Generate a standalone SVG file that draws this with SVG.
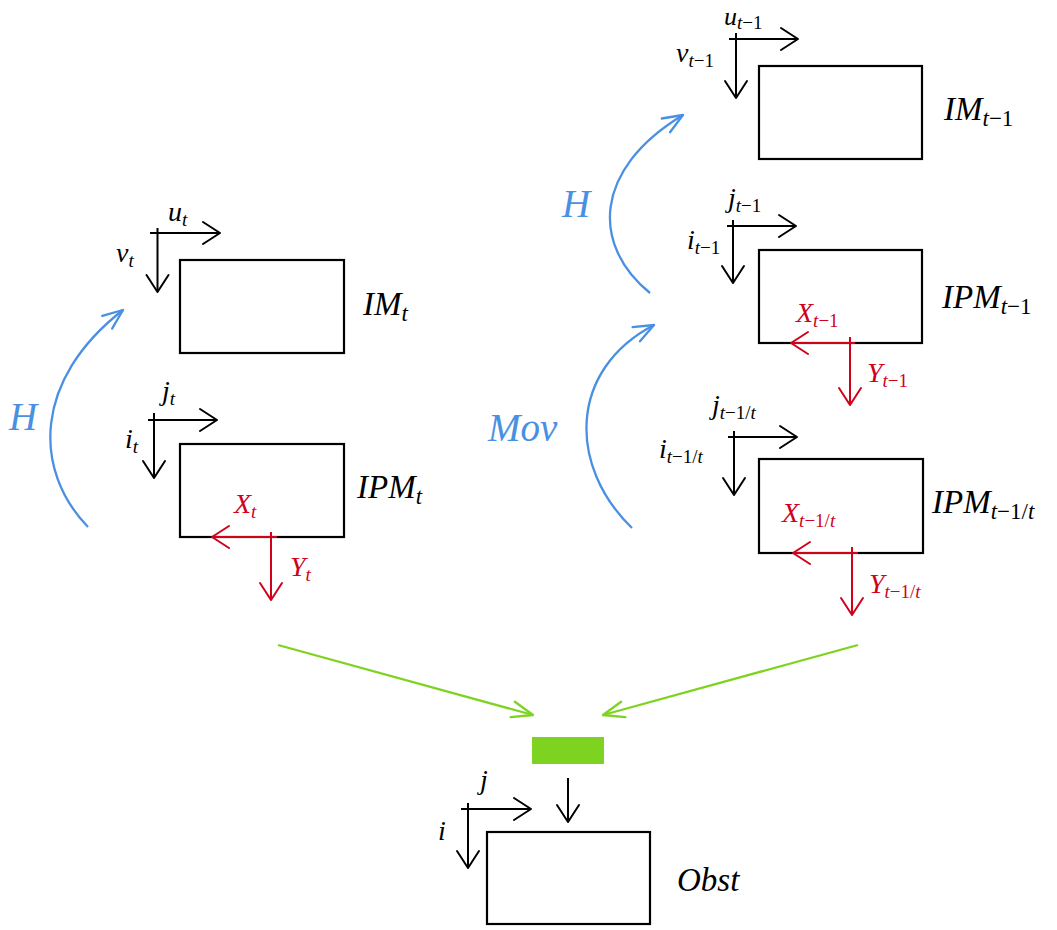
<svg xmlns="http://www.w3.org/2000/svg" width="1057" height="930" viewBox="0 0 1057 930">
<defs>
<style>
.box{fill:none;stroke:#000;stroke-width:2.2}
.ax{fill:none;stroke:#000;stroke-width:2}
.rax{fill:none;stroke:#d0021b;stroke-width:2}
.blue{fill:none;stroke:#4a90e2;stroke-width:2.3}
.green{fill:none;stroke:#7ed321;stroke-width:2.3}
text{font-family:"Liberation Serif","Times New Roman",serif;font-style:italic}
.sm{font-size:28px;fill:#000}
.red{fill:#d0021b}
.big{font-size:33px;fill:#000}
.bl{font-size:39px;fill:#4a90e2}
.sub{font-size:19px}
.bsub{font-size:23px}
.up{font-style:normal}
</style>
<marker id="ak" markerUnits="userSpaceOnUse" markerWidth="40" markerHeight="40" viewBox="-30 -20 40 40" refX="0" refY="0" orient="auto" overflow="visible">
<path d="M -17 -11 L 0 0 L -17 11" fill="none" stroke="#000" stroke-width="2" stroke-linecap="round" stroke-linejoin="round"/>
</marker>
<marker id="ar" markerUnits="userSpaceOnUse" markerWidth="40" markerHeight="40" viewBox="-30 -20 40 40" refX="0" refY="0" orient="auto" overflow="visible">
<path d="M -17 -11 L 0 0 L -17 11" fill="none" stroke="#d0021b" stroke-width="2" stroke-linecap="round" stroke-linejoin="round"/>
</marker>
<marker id="ab" markerUnits="userSpaceOnUse" markerWidth="40" markerHeight="40" viewBox="-30 -20 40 40" refX="0" refY="0" orient="auto" overflow="visible">
<path d="M -20 -8 L 0 0 L -20 8" fill="none" stroke="#4a90e2" stroke-width="2.3" stroke-linecap="round" stroke-linejoin="round"/>
</marker>
<marker id="ag" markerUnits="userSpaceOnUse" markerWidth="40" markerHeight="40" viewBox="-30 -20 40 40" refX="0" refY="0" orient="auto" overflow="visible">
<path d="M -21 -8 L 0 0 L -21 8" fill="none" stroke="#7ed321" stroke-width="2.3" stroke-linecap="round" stroke-linejoin="round"/>
</marker>
</defs>
<rect width="1057" height="930" fill="#fff"/>

<g id="IM_t">
<rect class="box" x="180" y="260" width="164" height="93"/>
<line class="ax" x1="157.5" y1="228" x2="157.5" y2="292" marker-end="url(#ak)"/>
<line class="ax" x1="150" y1="233" x2="220" y2="233" marker-end="url(#ak)"/>
<text class="sm" x="168" y="221">u<tspan class="sub" dy="5">t</tspan></text>
<text class="sm" x="116" y="262">v<tspan class="sub" dy="5">t</tspan></text>
<text class="big" x="363" y="315">IM<tspan class="bsub" dy="6">t</tspan></text>
</g>

<g id="IPM_t">
<rect class="box" x="180" y="444" width="164" height="93"/>
<line class="ax" x1="154" y1="413" x2="154" y2="478" marker-end="url(#ak)"/>
<line class="ax" x1="148" y1="420" x2="217" y2="420" marker-end="url(#ak)"/>
<text class="sm" x="162" y="400">j<tspan class="sub" dy="5">t</tspan></text>
<text class="sm" x="125" y="448">i<tspan class="sub" dy="5">t</tspan></text>
<text class="big" x="357" y="498">IPM<tspan class="bsub" dy="6">t</tspan></text>
<line class="rax" x1="277" y1="537" x2="212" y2="537" marker-end="url(#ar)"/>
<line class="rax" x1="271" y1="532" x2="271" y2="600" marker-end="url(#ar)"/>
<text class="sm red" x="234" y="513">X<tspan class="sub" dy="5">t</tspan></text>
<text class="sm red" x="290" y="576">Y<tspan class="sub" dy="5">t</tspan></text>
</g>

<g id="IM_t-1">
<rect class="box" x="759" y="66" width="163" height="93"/>
<line class="ax" x1="736" y1="33" x2="736" y2="98" marker-end="url(#ak)"/>
<line class="ax" x1="729" y1="39" x2="798" y2="39" marker-end="url(#ak)"/>
<text class="sm" x="724" y="25" style="font-size:26px">u<tspan class="sub" dy="4">t<tspan class="up">−1</tspan></tspan></text>
<text class="sm" x="676" y="62">v<tspan class="sub" dy="5">t<tspan class="up">−1</tspan></tspan></text>
<text class="big" x="944" y="120">IM<tspan class="bsub" dy="6">t<tspan class="up">−1</tspan></tspan></text>
</g>

<g id="IPM_t-1">
<rect class="box" x="759" y="250" width="163" height="93"/>
<line class="ax" x1="733" y1="220" x2="733" y2="283" marker-end="url(#ak)"/>
<line class="ax" x1="727" y1="226" x2="796" y2="226" marker-end="url(#ak)"/>
<text class="sm" x="728" y="207">j<tspan class="sub" dy="5">t<tspan class="up">−1</tspan></tspan></text>
<text class="sm" x="687" y="249">i<tspan class="sub" dy="5">t<tspan class="up">−1</tspan></tspan></text>
<text class="big" x="942" y="308">IPM<tspan class="bsub" dy="6">t<tspan class="up">−1</tspan></tspan></text>
<line class="rax" x1="855" y1="343" x2="791" y2="343" marker-end="url(#ar)"/>
<line class="rax" x1="850" y1="337" x2="850" y2="405" marker-end="url(#ar)"/>
<text class="sm red" x="796" y="322">X<tspan class="sub" dy="5">t<tspan class="up">−1</tspan></tspan></text>
<text class="sm red" x="867" y="382">Y<tspan class="sub" dy="5">t<tspan class="up">−1</tspan></tspan></text>
</g>

<g id="IPM_t-1_t">
<rect class="box" x="759" y="459" width="164" height="94"/>
<line class="ax" x1="734" y1="431" x2="734" y2="495" marker-end="url(#ak)"/>
<line class="ax" x1="728" y1="437" x2="797" y2="437" marker-end="url(#ak)"/>
<text class="sm" x="712" y="414">j<tspan class="sub" dy="5">t<tspan class="up">−1/</tspan>t</tspan></text>
<text class="sm" x="659" y="458">i<tspan class="sub" dy="5">t<tspan class="up">−1/</tspan>t</tspan></text>
<text class="big" x="932" y="513">IPM<tspan class="bsub" dy="6">t<tspan class="up">−1/</tspan>t</tspan></text>
<line class="rax" x1="858" y1="553" x2="793" y2="553" marker-end="url(#ar)"/>
<line class="rax" x1="852" y1="547" x2="852" y2="615" marker-end="url(#ar)"/>
<text class="sm red" x="782" y="522">X<tspan class="sub" dy="5">t<tspan class="up">−1/</tspan>t</tspan></text>
<text class="sm red" x="869" y="593">Y<tspan class="sub" dy="5">t<tspan class="up">−1/</tspan>t</tspan></text>
</g>

<g id="fusion">
<rect x="532" y="737" width="72" height="27" fill="#7ed321"/>
</g>

<g id="Obst">
<rect class="box" x="487" y="832" width="163" height="92"/>
<line class="ax" x1="468" y1="803" x2="468" y2="868" marker-end="url(#ak)"/>
<line class="ax" x1="461" y1="809" x2="531" y2="809" marker-end="url(#ak)"/>
<text class="sm" x="480" y="789">j</text>
<text class="sm" x="438" y="840">i</text>
<text class="big" x="677" y="891">Obst</text>
</g>

<g id="connectors">
<path class="blue" d="M 88 527 C 33 470, 33 380, 123 310" marker-end="url(#ab)"/>
<text class="bl" x="9" y="430">H</text>
<path class="blue" d="M 650 293 C 592 246, 592 170, 683 115" marker-end="url(#ab)"/>
<text class="bl" x="562" y="217">H</text>
<path class="blue" d="M 632 528 C 568 466, 568 370, 654 325" marker-end="url(#ab)"/>
<text class="bl" x="488" y="441">Mov</text>
<line class="green" x1="278" y1="645" x2="533" y2="715" marker-end="url(#ag)"/>
<line class="green" x1="858" y1="645" x2="603" y2="715" marker-end="url(#ag)"/>
<line class="ax" x1="568" y1="778" x2="568" y2="822" marker-end="url(#ak)"/>
</g>
</svg>
